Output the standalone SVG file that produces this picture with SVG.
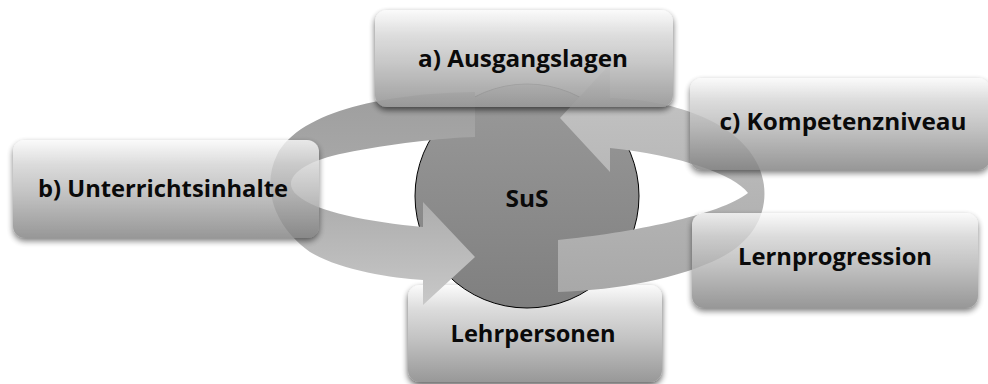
<svg xmlns="http://www.w3.org/2000/svg" width="988" height="384" viewBox="0 0 988 384">
<defs>
<linearGradient id="boxGrad" x1="0" y1="0" x2="0" y2="1">
<stop offset="0" stop-color="#fbfbfb"/>
<stop offset="0.25" stop-color="#dcdcdc"/>
<stop offset="0.55" stop-color="#c3c3c3"/>
<stop offset="1" stop-color="#989898"/>
</linearGradient>
<linearGradient id="boxGradT" x1="0" y1="0" x2="0" y2="1">
<stop offset="0" stop-color="#fafafa"/>
<stop offset="0.25" stop-color="#d3d3d3"/>
<stop offset="0.55" stop-color="#b4b4b4"/>
<stop offset="1" stop-color="#7e7e7e"/>
</linearGradient>
<linearGradient id="arrGrad1" x1="0" y1="0" x2="0" y2="1">
<stop offset="0" stop-color="#9e9e9e"/>
<stop offset="0.5" stop-color="#acacac"/>
<stop offset="1" stop-color="#c8c8c8"/>
</linearGradient>
<linearGradient id="arrGrad2" x1="0" y1="1" x2="0" y2="0">
<stop offset="0" stop-color="#a8a8a8"/>
<stop offset="1" stop-color="#c6c6c6"/>
</linearGradient>
<linearGradient id="circGrad" x1="0" y1="0" x2="0" y2="1">
<stop offset="0" stop-color="#9a9a9a"/>
<stop offset="1" stop-color="#7f7f7f"/>
</linearGradient>
<filter id="shadow" x="-10%" y="-15%" width="120%" height="140%">
<feGaussianBlur in="SourceAlpha" stdDeviation="3"/>
<feOffset dx="0" dy="3" result="b"/>
<feComponentTransfer><feFuncA type="linear" slope="0.65"/></feComponentTransfer>
<feMerge><feMergeNode/><feMergeNode in="SourceGraphic"/></feMerge>
</filter>
</defs>
<style>
.box{fill:url(#boxGrad);filter:url(#shadow);}
.boxt{fill:url(#boxGradT);filter:url(#shadow);opacity:0.8;}
.lbl{font-family:"Open Sans","Liberation Sans",sans-serif;font-weight:bold;font-size:23px;fill:#0a0a0a;text-anchor:middle;}
.arrow{stroke:none;}
</style>
<rect width="988" height="384" fill="#ffffff"/>
<g id="node-lehr">
<rect class="box" x="408" y="285" width="254" height="97" rx="12"/>
<text class="lbl" x="533" y="342" textLength="165" lengthAdjust="spacingAndGlyphs">Lehrpersonen</text>
</g>
<g id="node-sus">
<circle cx="527" cy="196" r="112" fill="url(#circGrad)" stroke="#000" stroke-width="1"/>
<text class="lbl" x="527" y="207" textLength="43" lengthAdjust="spacingAndGlyphs">SuS</text>
</g>
<g id="connectors">
<path class="arrow" fill="url(#arrGrad1)" d="M475,92 C390,93 300,110 277,155 C262,185 272,225 310,252 C340,270 390,278 423,280 L423,305 L475,257 L423,202 L423,227 C370,222 315,212 297,195 C280,180 300,162 345,153 C390,144 440,138 475,137 Z"/>
<path class="arrow" fill="url(#arrGrad2)" d="M558,240 C630,233 720,215 748,193 C735,175 680,155 610,148 L610,172 L560,118 L610,64 L610,98 C680,100 740,125 758,165 C772,195 765,235 720,258 C680,278 620,290 558,292 Z"/>
</g>
<g id="node-b">
<rect class="boxt" x="13" y="140" width="306" height="98" rx="12"/>
<text class="lbl" x="163" y="197" textLength="250" lengthAdjust="spacingAndGlyphs">b) Unterrichtsinhalte</text>
</g>
<g id="node-c">
<rect class="boxt" x="690" y="78" width="300" height="92" rx="12"/>
<text class="lbl" x="843" y="130" textLength="247" lengthAdjust="spacingAndGlyphs">c) Kompetenzniveau</text>
</g>
<g id="node-lern">
<rect class="boxt" x="692" y="213" width="286" height="95" rx="12"/>
<text class="lbl" x="835" y="265" textLength="194" lengthAdjust="spacingAndGlyphs">Lernprogression</text>
</g>
<g id="node-a">
<rect class="box" x="375" y="10" width="298" height="97" rx="12" opacity="0.93"/>
<text class="lbl" x="523" y="67" textLength="210" lengthAdjust="spacingAndGlyphs">a) Ausgangslagen</text>
</g>
</svg>
